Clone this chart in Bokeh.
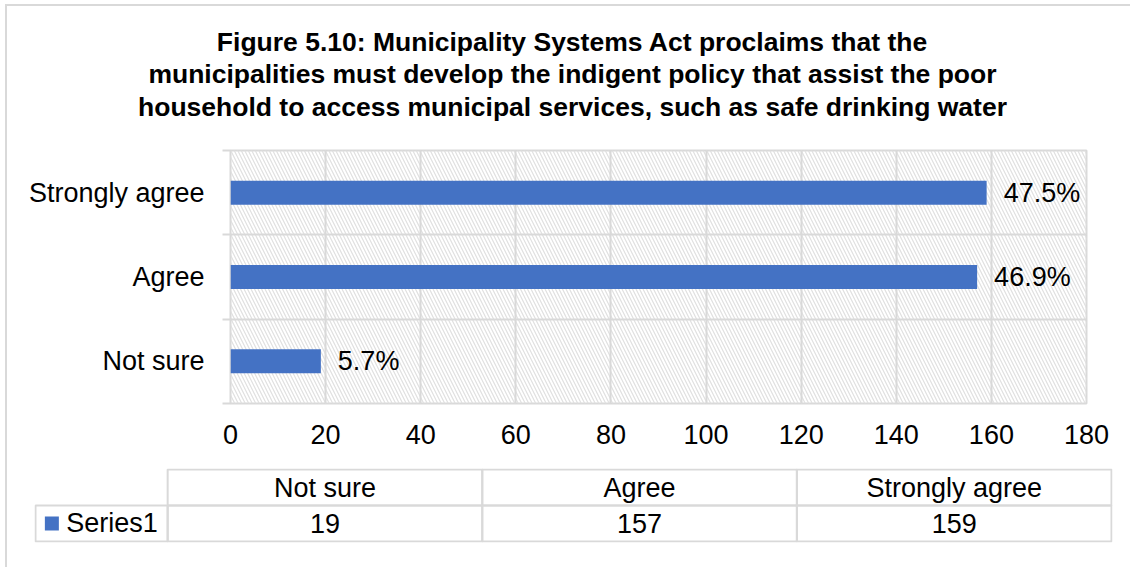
from bokeh.plotting import figure
from bokeh.models import Range1d, FixedTicker, BoxAnnotation
from bokeh.layouts import column
from bokeh.embed import file_html
from bokeh.resources import INLINE
from bokeh.core.properties import value

title_lines = [
    "Figure 5.10: Municipality Systems Act proclaims that the",
    "municipalities must develop the indigent policy that assist the poor",
    "household to access municipal services, such as safe drinking water",
]
categories = ["Not sure", "Agree", "Strongly agree"]
counts = [19, 157, 159]
pct_labels = ["5.7%", "46.9%", "47.5%"]
x_ticks = [0, 20, 40, 60, 80, 100, 120, 140, 160, 180]
series_name = "Series1"

FONT = "Liberation Sans"
BLUE = "#4472C4"
GRID = "#d9d9d9"
FS = "27px"
W = 1123


def no_align(fig):
    if "frame_align" in fig.properties():
        fig.frame_align = False


# ---------- title ----------
tf = figure(width=W, height=136, x_range=Range1d(0, 1), y_range=Range1d(0, 1),
            output_backend="svg", toolbar_location=None, min_border=0)
no_align(tf)
tf.axis.visible = False
tf.grid.visible = False
tf.outline_line_color = None
tf.text(x=[0.5], y=[0.5], text=["\n".join(title_lines)], text_font=value(FONT),
        text_font_style="bold", text_font_size="26.5px", text_align="center",
        text_baseline="middle", text_line_height=1.09, x_offset=3.5, text_color="black")

# ---------- main chart ----------
n = len(categories)
ypos = [i + 0.5 for i in range(n)]
bounds = list(range(n + 1))

p = figure(width=W, height=320, x_range=Range1d(x_ticks[0], x_ticks[-1]), y_range=Range1d(0, n),
           output_backend="svg", toolbar_location=None,
           min_border_left=223, min_border_right=44, min_border_top=8, min_border_bottom=59)
no_align(p)
p.outline_line_color = GRID
p.outline_line_width = 2
p.add_layout(BoxAnnotation(level="image", fill_alpha=0, line_alpha=0, hatch_pattern="\\",
                           hatch_color="#e0e0e0", hatch_scale=7, hatch_weight=1.2))
p.hbar(y=ypos, right=counts, left=0, height=0.285, fill_color=BLUE, line_color=None)
p.text(x=counts, y=ypos, text=pct_labels, x_offset=17, text_align="left", text_baseline="middle",
       text_font=value(FONT), text_font_size=FS, text_color="black")

p.xaxis.ticker = FixedTicker(ticks=x_ticks)
p.xaxis.axis_line_color = None
p.xaxis.major_tick_line_color = None
p.xaxis.minor_tick_line_color = None
p.xaxis.major_tick_out = 0
p.xaxis.major_tick_in = 0
p.xaxis.major_label_standoff = 21
p.xaxis.major_label_text_font = FONT
p.xaxis.major_label_text_font_size = FS
p.xaxis.major_label_text_color = "black"

p.yaxis.ticker = FixedTicker(ticks=ypos, minor_ticks=bounds)
p.yaxis.major_label_overrides = {y: c for y, c in zip(ypos, categories)}
p.yaxis.axis_line_color = None
p.yaxis.major_tick_line_color = None
p.yaxis.major_tick_out = 0
p.yaxis.major_tick_in = 0
p.yaxis.minor_tick_out = 8
p.yaxis.minor_tick_in = 0
p.yaxis.minor_tick_line_color = GRID
p.yaxis.minor_tick_line_width = 2
p.yaxis.major_label_standoff = 18
p.yaxis.major_label_text_font = FONT
p.yaxis.major_label_text_font_size = FS
p.yaxis.major_label_text_color = "black"

p.xgrid.ticker = FixedTicker(ticks=x_ticks)
p.ygrid.ticker = FixedTicker(ticks=bounds)
p.grid.grid_line_color = GRID
p.grid.grid_line_width = 2

# ---------- data table ----------
t = figure(width=W, height=105, x_range=Range1d(-0.4232, 3.0032), y_range=Range1d(-0.028, 2.028),
           output_backend="svg", toolbar_location=None,
           min_border_left=27, min_border_right=18, min_border_top=6, min_border_bottom=25)
no_align(t)
t.axis.visible = False
t.grid.visible = False
t.outline_line_color = None
cx = [i + 0.5 for i in range(n)]
t.rect(x=cx, y=[1.5] * n, width=1, height=1, fill_color=None, line_color=GRID, line_width=2)
t.rect(x=cx, y=[0.5] * n, width=1, height=1, fill_color=None, line_color=GRID, line_width=2)
t.rect(x=[-0.21], y=[0.5], width=0.42, height=1, fill_color=None, line_color=GRID, line_width=2)
t.text(x=cx, y=[1.5] * n, text=categories, text_align="center", text_baseline="middle",
       text_font=value(FONT), text_font_size=FS, text_color="black")
t.text(x=cx, y=[0.5] * n, text=[str(c) for c in counts], text_align="center", text_baseline="middle",
       text_font=value(FONT), text_font_size=FS, text_color="black")
t.scatter(x=[-0.368], y=[0.5], marker="square", size=14, fill_color=BLUE, line_color=None)
t.text(x=[-0.322], y=[0.5], text=[series_name], text_align="left", text_baseline="middle",
       text_font=value(FONT), text_font_size=FS, text_color="black")

layout = column(tf, p, t, margin=(4, 0, 0, 5),
                styles={"border-left": "2px solid #d9d9d9", "border-top": "2px solid #d9d9d9"})

open("out.html", "w").write(file_html(layout, INLINE))
